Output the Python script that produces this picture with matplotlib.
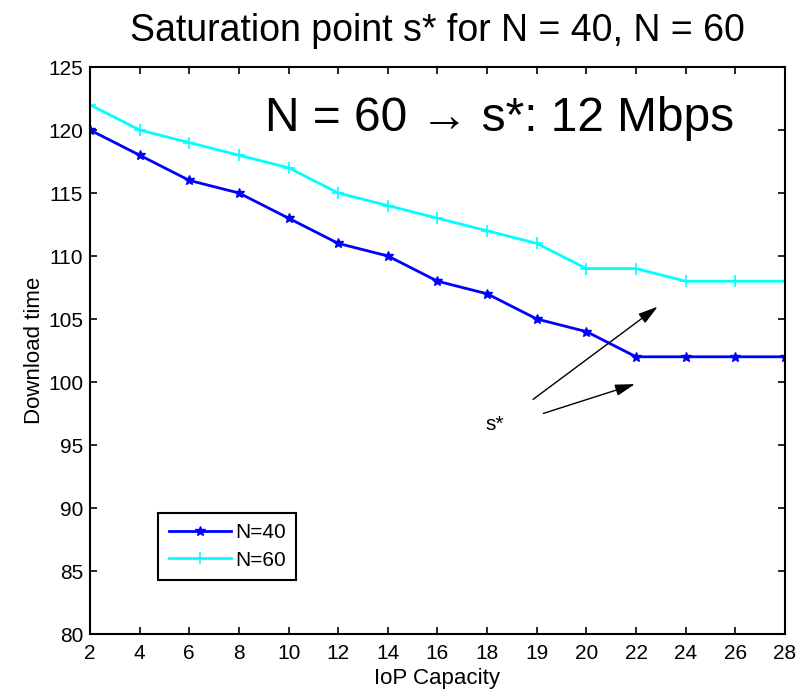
import numpy as np
import matplotlib
matplotlib.use('Agg')
import matplotlib.pyplot as plt

plt.rcParams['font.family'] = ['Liberation Sans', 'DejaVu Sans']

capacity = ['2', '4', '6', '8', '10', '12', '14', '16', '18', '19', '20', '22', '24', '26', '28']
time_n40 = [120, 118, 116, 115, 113, 111, 110, 108, 107, 105, 104, 102, 102, 102, 102]
time_n60 = [122, 120, 119, 118, 117, 115, 114, 113, 112, 111, 109, 109, 108, 108, 108]

fig = plt.figure(figsize=(7.98, 6.92), dpi=100)
ax = fig.add_axes([90 / 798, 58 / 692, 695 / 798, 567 / 692])

idx = np.arange(len(capacity))
ax.plot(idx, time_n40, color='#0000ff', marker='*', markersize=7, lw=2, label='N=40')
ax.plot(idx, time_n60, color='#00ffff', marker='+', markersize=8, mew=1.2, lw=2, label='N=60')

ax.set_xlim(0, len(capacity) - 1)
ax.set_ylim(80, 125)
ax.set_xticks(idx)
ax.set_xticklabels(capacity)
ax.set_yticks(np.arange(80, 126, 5))
ax.tick_params(direction='in', length=5, width=1.2, labelsize=15, top=True, right=True)
ax.tick_params(axis='x', pad=7)
ax.tick_params(axis='y', pad=5)
for s in ax.spines.values():
    s.set_linewidth(1.5)

ax.set_xlabel('IoP Capacity', fontsize=16, labelpad=4)
ax.set_ylabel('Download time', fontsize=16, labelpad=2)
ax.set_title('Saturation point s* for N = 40, N = 60', fontsize=27, pad=19)

ax.text(3.53, 120.95, 'N = 60 \u2192 s*: 12 Mbps', fontsize=34.5, va='center', ha='left')

arrow = dict(arrowstyle='-|>,head_length=1.2,head_width=0.35', color='black', lw=1)
ax.annotate('', xy=(11.48, 106.11), xytext=(8.88, 98.49), arrowprops=arrow)
ax.annotate('', xy=(11.03, 99.9), xytext=(9.08, 97.44), arrowprops=arrow)
ax.text(8.16, 96.59, 's*', fontsize=15, ha='center', va='center')

leg = ax.legend(loc='lower left', bbox_to_anchor=(0.098, 0.095), fontsize=15,
                fancybox=False, edgecolor='black', framealpha=1,
                handlelength=3.0, borderpad=0.5, labelspacing=0.4, handletextpad=0.2,
                borderaxespad=0)
leg.get_frame().set_linewidth(1.5)

fig.savefig('out.png', dpi=100)
